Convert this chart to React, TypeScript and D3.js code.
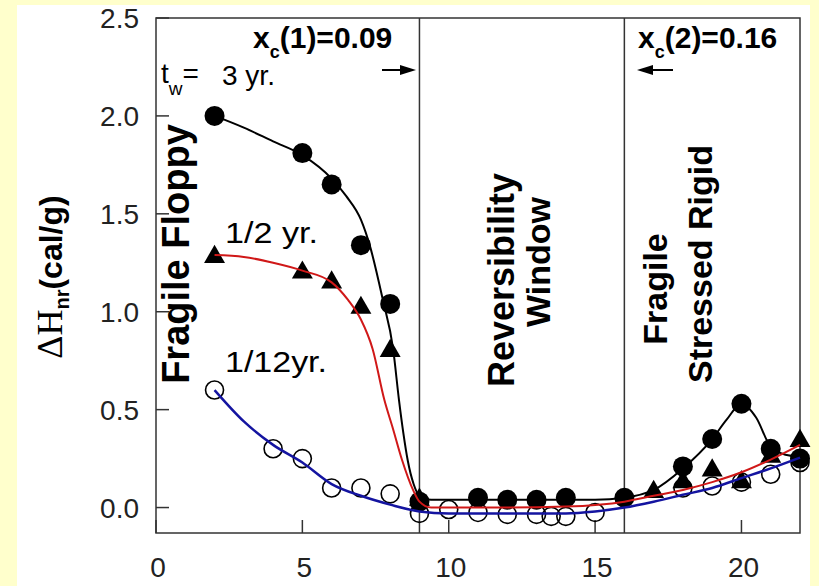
import React from 'react';
import * as d3 from 'd3';

// measured points, x = composition (%), y = ΔH_nr (cal/g)
const x3yr = [2, 5, 6, 7, 8, 9, 11, 12, 13, 14, 16, 18, 19, 20, 21, 22];
const h3yr = [2.0, 1.81, 1.65, 1.34, 1.04, 0.03, 0.05, 0.04, 0.04, 0.05, 0.05, 0.21, 0.35, 0.53, 0.3, 0.25];

const xHalf = [2, 5, 6, 7, 8, 9, 17, 18, 19, 20, 21, 22];
const hHalf = [1.28, 1.2, 1.15, 1.02, 0.8, 0.04, 0.08, 0.13, 0.19, 0.13, 0.26, 0.34];

const xMonth = [2, 4, 5, 6, 7, 8, 9, 10, 11, 12, 13, 13.5, 14, 15, 18, 19, 20, 21, 22];
const hMonth = [0.6, 0.3, 0.25, 0.1, 0.1, 0.07, -0.03, -0.01, -0.025, -0.035, -0.035, -0.045, -0.045, -0.025, 0.1, 0.11, 0.13, 0.17, 0.23];

// fitted curves
const fitX3 = [2, 3, 4, 5, 6, 6.5, 7, 7.3, 7.75, 8.1, 8.3, 8.45, 8.6, 8.8, 9, 9.4, 11, 13, 15, 16, 17, 18, 19, 19.5, 20, 20.5, 21, 21.5, 22];
const fitH3 = [2.0, 1.94, 1.87, 1.8, 1.68, 1.59, 1.47, 1.34, 1.06, 0.81, 0.55, 0.38, 0.24, 0.12, 0.06, 0.04, 0.04, 0.04, 0.04, 0.05, 0.09, 0.2, 0.35, 0.45, 0.53, 0.46, 0.31, 0.27, 0.26];

const fitXHalf = [2, 3, 4, 5, 6, 6.56, 7, 7.4, 7.8, 8.1, 8.4, 8.78, 9, 9.4, 12, 14, 16, 17, 18, 19, 20, 21, 22];
const fitHHalf = [1.29, 1.28, 1.25, 1.21, 1.15, 1.06, 0.96, 0.81, 0.55, 0.4, 0.245, 0.09, 0.03, 0.0, 0.0, 0.005, 0.03, 0.06, 0.09, 0.13, 0.18, 0.245, 0.32];

const fitXMonth = [2, 3, 4, 5, 6, 7, 8, 9, 10, 13, 14, 15, 16, 17, 18, 19, 20, 21, 22];
const fitHMonth = [0.6, 0.44, 0.32, 0.23, 0.12, 0.06, 0.015, -0.02, -0.03, -0.03, -0.03, -0.02, 0.0, 0.03, 0.065, 0.1, 0.15, 0.2, 0.255];

const xTicks = [0, 5, 10, 15, 20];
const yTicks = [0, 0.5, 1.0, 1.5, 2.0, 2.5];
const windowEdges = [9, 16];

const W = 819;
const H = 586;
const sans = '"Liberation Sans", Arial, Helvetica, sans-serif';
const serif = '"Liberation Serif", "DejaVu Serif", Times, serif';

export default function App() {
  const x = d3.scaleLinear().domain([0, 22]).range([156, 800]);
  const y = d3.scaleLinear().domain([-0.13, 2.5]).range([533, 18]);

  const line = d3
    .line<[number, number]>()
    .x(d => x(d[0]))
    .y(d => y(d[1]))
    .curve(d3.curveMonotoneX);

  const pts = (xs: number[], ys: number[]) => xs.map((v, i) => [v, ys[i]] as [number, number]);
  const tri = d3.symbol().type(d3.symbolTriangle).size(190)();

  const [x0, x1] = x.range();
  const [y0, y1] = y.range();

  return (
    <div>
      <style>{`body{margin:0}`}</style>
      <svg width={W} height={H} style={{ display: 'block' }}>
        <rect x={0} y={0} width={W} height={H} fill="#ffffcc" />
        <rect x={17} y={5} width={793} height={H - 5} fill="#ffffff" />

        {/* frame */}
        <rect x={x0} y={y1} width={x1 - x0} height={y0 - y1} fill="none" stroke="#333" strokeWidth={1.5} />
        {windowEdges.map(v => (
          <line key={v} x1={x(v)} x2={x(v)} y1={y1} y2={y0} stroke="#333" strokeWidth={1.5} />
        ))}

        {/* ticks */}
        {yTicks.map(t => (
          <g key={'y' + t}>
            <line x1={x0} x2={x0 + 13} y1={y(t)} y2={y(t)} stroke="#333" strokeWidth={1.5} />
            <text x={139} y={y(t) + 10} textAnchor="end" fontFamily={sans} fontSize={28} fill="#222">
              {d3.format('.1f')(t)}
            </text>
          </g>
        ))}
        {xTicks.map(t => (
          <g key={'x' + t}>
            <line x1={x(t)} x2={x(t)} y1={y0} y2={y0 - 13} stroke="#333" strokeWidth={1.5} />
            <text x={x(t) + 2} y={577} textAnchor="middle" fontFamily={sans} fontSize={28} fill="#222">
              {t}
            </text>
          </g>
        ))}

        {/* markers */}
        {x3yr.map((v, i) => (
          <circle key={'c' + i} cx={x(v)} cy={y(h3yr[i])} r={10} fill="#000" />
        ))}
        {xHalf.map((v, i) => (
          <path key={'t' + i} d={tri || ''} transform={`translate(${x(v)},${y(hHalf[i])})`} fill="#000" />
        ))}
        {xMonth.map((v, i) => (
          <circle key={'o' + i} cx={x(v)} cy={y(hMonth[i])} r={9} fill="none" stroke="#000" strokeWidth={1.6} />
        ))}

        {/* fits */}
        <path d={line(pts(fitX3, fitH3)) || ''} fill="none" stroke="#000" strokeWidth={2} />
        <path d={line(pts(fitXHalf, fitHHalf)) || ''} fill="none" stroke="#d01818" strokeWidth={2} />
        <path d={line(pts(fitXMonth, fitHMonth)) || ''} fill="none" stroke="#1414a0" strokeWidth={2.5} />

        {/* y label */}
        <text transform="translate(62,277) rotate(-90)" textAnchor="middle" fill="#000">
          <tspan fontFamily={serif} fontSize={36}>ΔH</tspan>
          <tspan fontFamily={sans} fontWeight="bold" fontSize={20} dy={7}>nr</tspan>
          <tspan fontFamily={sans} fontWeight="bold" fontSize={32} dy={-7}>(cal/g)</tspan>
        </text>

        {/* annotations */}
        <text x={253} y={48} fontFamily={sans} fontWeight="bold" fontSize={30}>
          x<tspan fontSize={18} dy={10}>c</tspan>
          <tspan dy={-10}>(1)=0.09</tspan>
        </text>
        <text x={638} y={48} fontFamily={sans} fontWeight="bold" fontSize={30}>
          x<tspan fontSize={18} dy={10}>c</tspan>
          <tspan dy={-10}>(2)=0.16</tspan>
        </text>
        <text x={161} y={83} fontFamily={sans} fontSize={28}>
          t<tspan fontSize={19} dy={12}>w</tspan>
          <tspan dy={-12}>=</tspan>
        </text>
        <text x={222} y={85} fontFamily={sans} fontSize={28}>3 yr.</text>
        <text x={225} y={243} fontFamily={sans} fontSize={29} textLength={93} lengthAdjust="spacingAndGlyphs">1/2 yr.</text>
        <text x={225} y={372} fontFamily={sans} fontSize={29} textLength={102} lengthAdjust="spacingAndGlyphs">1/12yr.</text>

        {/* arrows toward the window edges */}
        <line x1={382} x2={412} y1={70} y2={70} stroke="#000" strokeWidth={2} />
        <path d="M416,70 L400,65 L400,75 Z" fill="#000" />
        <line x1={642} x2={673} y1={70} y2={70} stroke="#000" strokeWidth={2} />
        <path d="M637,70 L653,65 L653,75 Z" fill="#000" />

        {/* regime labels */}
        <g fontFamily={sans} fontWeight="bold" textAnchor="middle">
          <text transform="translate(189,254) rotate(-90)" fontSize={38}>Fragile Floppy</text>
          <text transform="translate(514,280) rotate(-90)" fontSize={36}>Reversibility</text>
          <text transform="translate(550,262) rotate(-90)" fontSize={34}>Window</text>
          <text transform="translate(667,289) rotate(-90)" fontSize={34}>Fragile</text>
          <text transform="translate(712,264) rotate(-90)" fontSize={34}>Stressed Rigid</text>
        </g>
      </svg>
    </div>
  );
}
